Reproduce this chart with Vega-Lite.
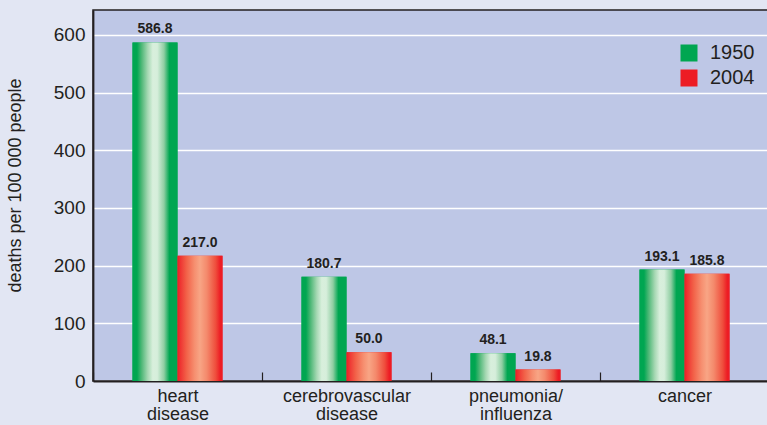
{
  "$schema": "https://vega.github.io/schema/vega-lite/v6.json",
  "width": 676,
  "height": 371,
  "autosize": {"type": "none"},
  "padding": {"left": 93, "top": 10, "right": 0, "bottom": 44},
  "background": "#e2e6f3",
  "config": {
    "view": {"fill": "#bec7e6", "stroke": "#231f20", "strokeWidth": 1.5},
    "font": "Liberation Sans"
  },
  "data": {
    "values": [
      {"cause": "heart disease", "year": "1950", "rate": 586.8},
      {"cause": "heart disease", "year": "2004", "rate": 217.0},
      {"cause": "cerebrovascular disease", "year": "1950", "rate": 180.7},
      {"cause": "cerebrovascular disease", "year": "2004", "rate": 50.0},
      {"cause": "pneumonia/ influenza", "year": "1950", "rate": 48.1},
      {"cause": "pneumonia/ influenza", "year": "2004", "rate": 19.8},
      {"cause": "cancer", "year": "1950", "rate": 193.1},
      {"cause": "cancer", "year": "2004", "rate": 185.8}
    ]
  },
  "encoding": {
    "x": {
      "field": "cause",
      "type": "nominal",
      "sort": null,
      "scale": {"paddingInner": 0, "paddingOuter": 0},
      "axis": {
        "title": null,
        "labelAngle": 0,
        "labelExpr": "split(datum.label, ' ')",
        "labelFontSize": 18,
        "labelLineHeight": 18,
        "labelBaseline": "top",
        "labelColor": "#231f20",
        "labelPadding": 15,
        "tickBand": "extent",
        "tickSize": -9,
        "tickColor": "#231f20",
        "tickWidth": 1.2,
        "domainColor": "#231f20",
        "domainWidth": 1.8,
        "grid": false
      }
    },
    "xOffset": {
      "field": "year",
      "type": "nominal",
      "scale": {"paddingInner": 0, "paddingOuter": 0.878}
    },
    "y": {
      "field": "rate",
      "type": "quantitative",
      "scale": {"domain": [0, 643], "nice": false},
      "axis": {
        "values": [0, 100, 200, 300, 400, 500, 600],
        "title": "deaths per 100 000 people",
        "titleFontSize": 18,
        "titleFontWeight": "normal",
        "titleColor": "#231f20",
        "titleX": -78,
        "titleY": 175,
        "titleAngle": -90,
        "titleAlign": "center",
        "titleBaseline": "middle",
        "labelFontSize": 19,
        "labelColor": "#231f20",
        "labelPadding": 8,
        "ticks": false,
        "grid": true,
        "gridColor": "#ffffff",
        "gridWidth": 1.5,
        "domainColor": "#231f20",
        "domainWidth": 1.8
      }
    }
  },
  "layer": [
    {
      "mark": {"type": "bar"},
      "encoding": {
        "color": {
          "field": "year",
          "type": "nominal",
          "scale": {"domain": ["1950", "2004"], "range": ["#00a651", "#ed1c24"]},
          "legend": {
            "orient": "none",
            "legendX": 586,
            "legendY": 33,
            "title": null,
            "symbolType": "square",
            "symbolSize": 289,
            "symbolStrokeWidth": 0,
            "labelFontSize": 20,
            "labelOffset": 11,
            "labelColor": "#231f20",
            "rowPadding": 5,
            "padding": 0
          }
        }
      }
    },
    {
      "mark": {"type": "bar"},
      "encoding": {
        "fill": {
          "condition": {
            "test": "datum.year === '1950'",
            "value": {
              "gradient": "linear",
              "x1": 0, "x2": 1, "y1": 0, "y2": 0,
              "stops": [
                {"offset": 0, "color": "#00a651"},
                {"offset": 0.1, "color": "#00a651"},
                {"offset": 0.2, "color": "#4db776"},
                {"offset": 0.34, "color": "#a6d8b3"},
                {"offset": 0.45, "color": "#d8efdc"},
                {"offset": 0.55, "color": "#d6eedb"},
                {"offset": 0.7, "color": "#8fcea2"},
                {"offset": 0.82, "color": "#00a651"},
                {"offset": 1, "color": "#00a651"}
              ]
            }
          },
          "value": {
            "gradient": "linear",
            "x1": 0, "x2": 1, "y1": 0, "y2": 0,
            "stops": [
              {"offset": 0, "color": "#ed1c24"},
              {"offset": 0.05, "color": "#ee3030"},
              {"offset": 0.2, "color": "#f26148"},
              {"offset": 0.38, "color": "#f68f70"},
              {"offset": 0.5, "color": "#f8a585"},
              {"offset": 0.65, "color": "#f48a6c"},
              {"offset": 0.85, "color": "#ef4d3c"},
              {"offset": 0.95, "color": "#ed1c24"},
              {"offset": 1, "color": "#ed1c24"}
            ]
          }
        }
      }
    },
    {
      "mark": {
        "type": "text",
        "baseline": "alphabetic",
        "dy": -9,
        "fontSize": 14,
        "fontWeight": "bold",
        "color": "#231f20"
      },
      "encoding": {
        "text": {"field": "rate", "type": "quantitative", "format": ".1f"}
      }
    }
  ]
}
